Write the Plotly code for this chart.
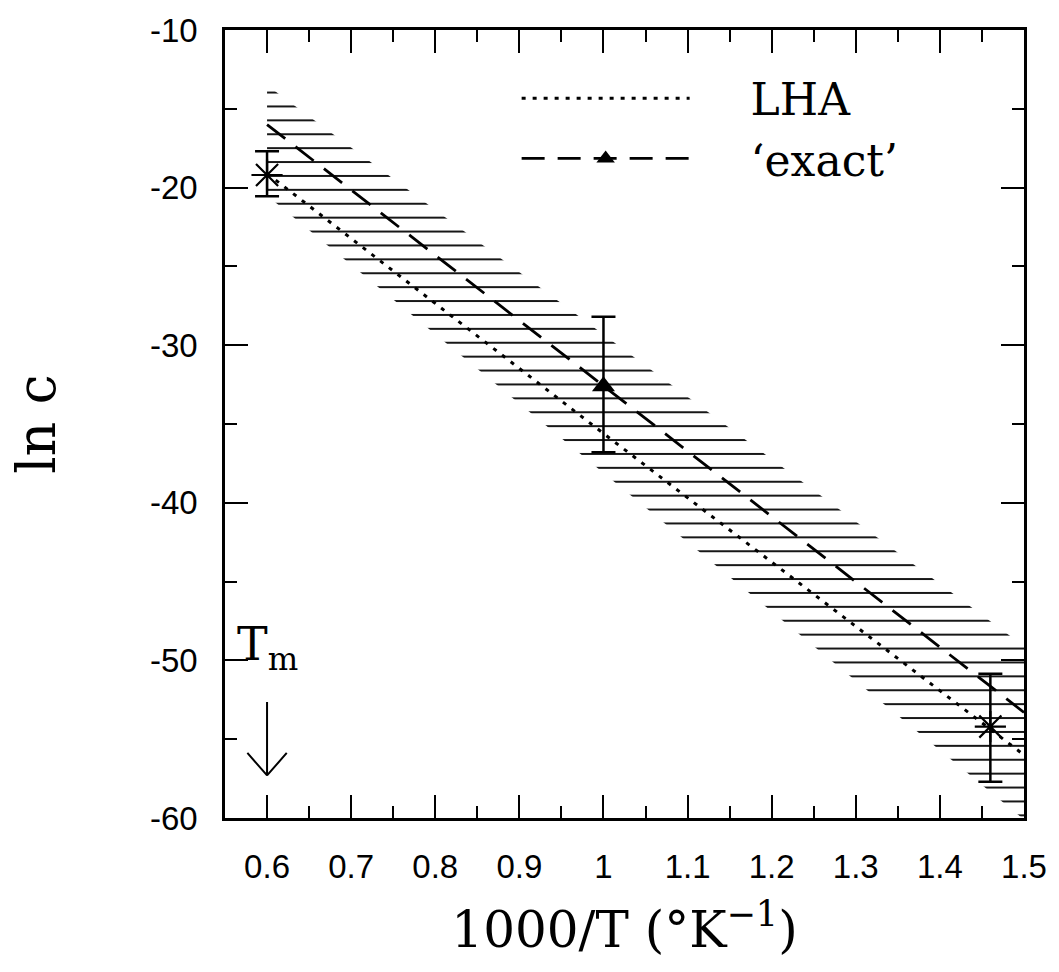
import plotly.graph_objects as go

# ---- data -------------------------------------------------------------
# inverse temperature 1000/T (1/K) and ln c values
tm_inv = 0.6                      # melting point, 1000/T_m

lha_x = [0.6, 1.0, 1.5]
lha_y = [-19.1, -35.6, -56.0]

exact_x = [0.6, 1.0, 1.5]
exact_y = [-16.0, -32.6, -53.3]

# the computed 'exact' point with its error bar
exact_pt_x = [1.0]
exact_pt_y = [-32.6]
exact_err_plus = [4.4]
exact_err_minus = [4.2]

sim_x = [0.6, 1.46]
sim_y = [-19.2, -54.2]
sim_err_plus = [1.5, 3.35]
sim_err_minus = [1.35, 3.5]

# uncertainty band around the exact result
band_upper_x = [0.6, 1.5]
band_upper_y = [-13.5, -49.1]
band_lower_x = [0.6, 1.5]
band_lower_y = [-20.5, -60.1]

x_ticks = [0.6, 0.7, 0.8, 0.9, 1.0, 1.1, 1.2, 1.3, 1.4, 1.5]
x_tick_text = ["0.6", "0.7", "0.8", "0.9", "1", "1.1", "1.2", "1.3", "1.4", "1.5"]
y_ticks = [-60, -50, -40, -30, -20, -10]
y_tick_text = ["-60", "-50", "-40", "-30", "-20", "-10"]

# ---- figure -----------------------------------------------------------
serif = "DejaVu Serif"
sans = "Liberation Sans"
gap = "\u00a0" * 4               # spacing between legend key and label

fig = go.Figure()

fig.add_trace(go.Scatter(
    x=band_upper_x + band_lower_x[::-1],
    y=band_upper_y + band_lower_y[::-1],
    mode="lines", fill="toself",
    line=dict(width=0, color="rgba(0,0,0,0)"),
    fillcolor="rgba(0,0,0,0)",
    fillpattern=dict(shape="-", size=13.9, solidity=0.13, fgopacity=1,
                     fgcolor="black", bgcolor="rgba(0,0,0,0)"),
    showlegend=False, hoverinfo="skip",
))

fig.add_trace(go.Scatter(
    x=lha_x, y=lha_y, mode="lines", name=gap + "LHA",
    line=dict(color="black", width=3, dash="4px,7px"),
))

fig.add_trace(go.Scatter(
    x=exact_x, y=exact_y, mode="lines", showlegend=False,
    line=dict(color="black", width=2.8, dash="23px,13px"),
))

fig.add_trace(go.Scatter(
    x=exact_pt_x, y=exact_pt_y, mode="lines+markers", name=gap + "\u2018exact\u2019",
    line=dict(color="black", width=2.8, dash="23px,13px"),
    marker=dict(symbol="triangle-up", size=20, color="black"),
    error_y=dict(type="data", array=exact_err_plus, arrayminus=exact_err_minus,
                 color="black", thickness=2.5, width=12),
))

fig.add_trace(go.Scatter(
    x=sim_x, y=sim_y, mode="markers", showlegend=False,
    marker=dict(symbol="asterisk-open", size=26, color="black",
                line=dict(color="black", width=2.2)),
    error_y=dict(type="data", array=sim_err_plus, arrayminus=sim_err_minus,
                 color="black", thickness=2.5, width=12),
))

axis_common = dict(
    showline=True, linecolor="black", linewidth=2.5, mirror="ticks",
    ticks="inside", ticklen=23, tickwidth=2, tickcolor="black",
    showgrid=False, zeroline=False,
    tickfont=dict(family=sans, size=33, color="black"),
    ticklabelstandoff=18,
)

fig.update_xaxes(
    range=[0.55, 1.5], tickmode="array", tickvals=x_ticks, ticktext=x_tick_text,
    minor=dict(tick0=0.55, dtick=0.05, ticks="inside", ticklen=12,
               tickwidth=2, tickcolor="black"),
    title=dict(text="1000/T (\u00b0K<sup>\u22121</sup>)",
               font=dict(family=serif, size=50, color="black"), standoff=28),
    **axis_common,
)
fig.update_yaxes(
    range=[-60, -10], tickmode="array", tickvals=y_ticks, ticktext=y_tick_text,
    minor=dict(tick0=-60, dtick=5, ticks="inside", ticklen=12,
               tickwidth=2, tickcolor="black"),
    title=dict(text="ln c", font=dict(family=serif, size=54, color="black"),
               standoff=78),
    **axis_common,
)

# melting point marker: label and downward arrow
tip_y = -57.3
annotations = [
    dict(x=tm_inv, y=-49.2, xref="x", yref="y", text="T<sub>m</sub>",
         showarrow=False, font=dict(family=serif, size=46, color="black")),
    dict(x=tm_inv, y=tip_y, xref="x", yref="y", text="", showarrow=True,
         arrowhead=0, arrowwidth=2, arrowcolor="black", ax=0, ay=-75, standoff=0),
    dict(x=tm_inv, y=tip_y, xref="x", yref="y", text="", showarrow=True,
         arrowhead=0, arrowwidth=2, arrowcolor="black", ax=-21, ay=-24, standoff=0),
    dict(x=tm_inv, y=tip_y, xref="x", yref="y", text="", showarrow=True,
         arrowhead=0, arrowwidth=2, arrowcolor="black", ax=21, ay=-24, standoff=0),
]

fig.update_layout(
    width=1059, height=972,
    margin=dict(l=225, r=24, t=20, b=154),
    paper_bgcolor="white", plot_bgcolor="white",
    showlegend=True,
    legend=dict(x=0.365, y=0.958, xanchor="left", yanchor="top",
                bgcolor="rgba(0,0,0,0)", itemwidth=168,
                font=dict(family=serif, size=44, color="black")),
    annotations=annotations,
)

fig.write_html("out.html")
